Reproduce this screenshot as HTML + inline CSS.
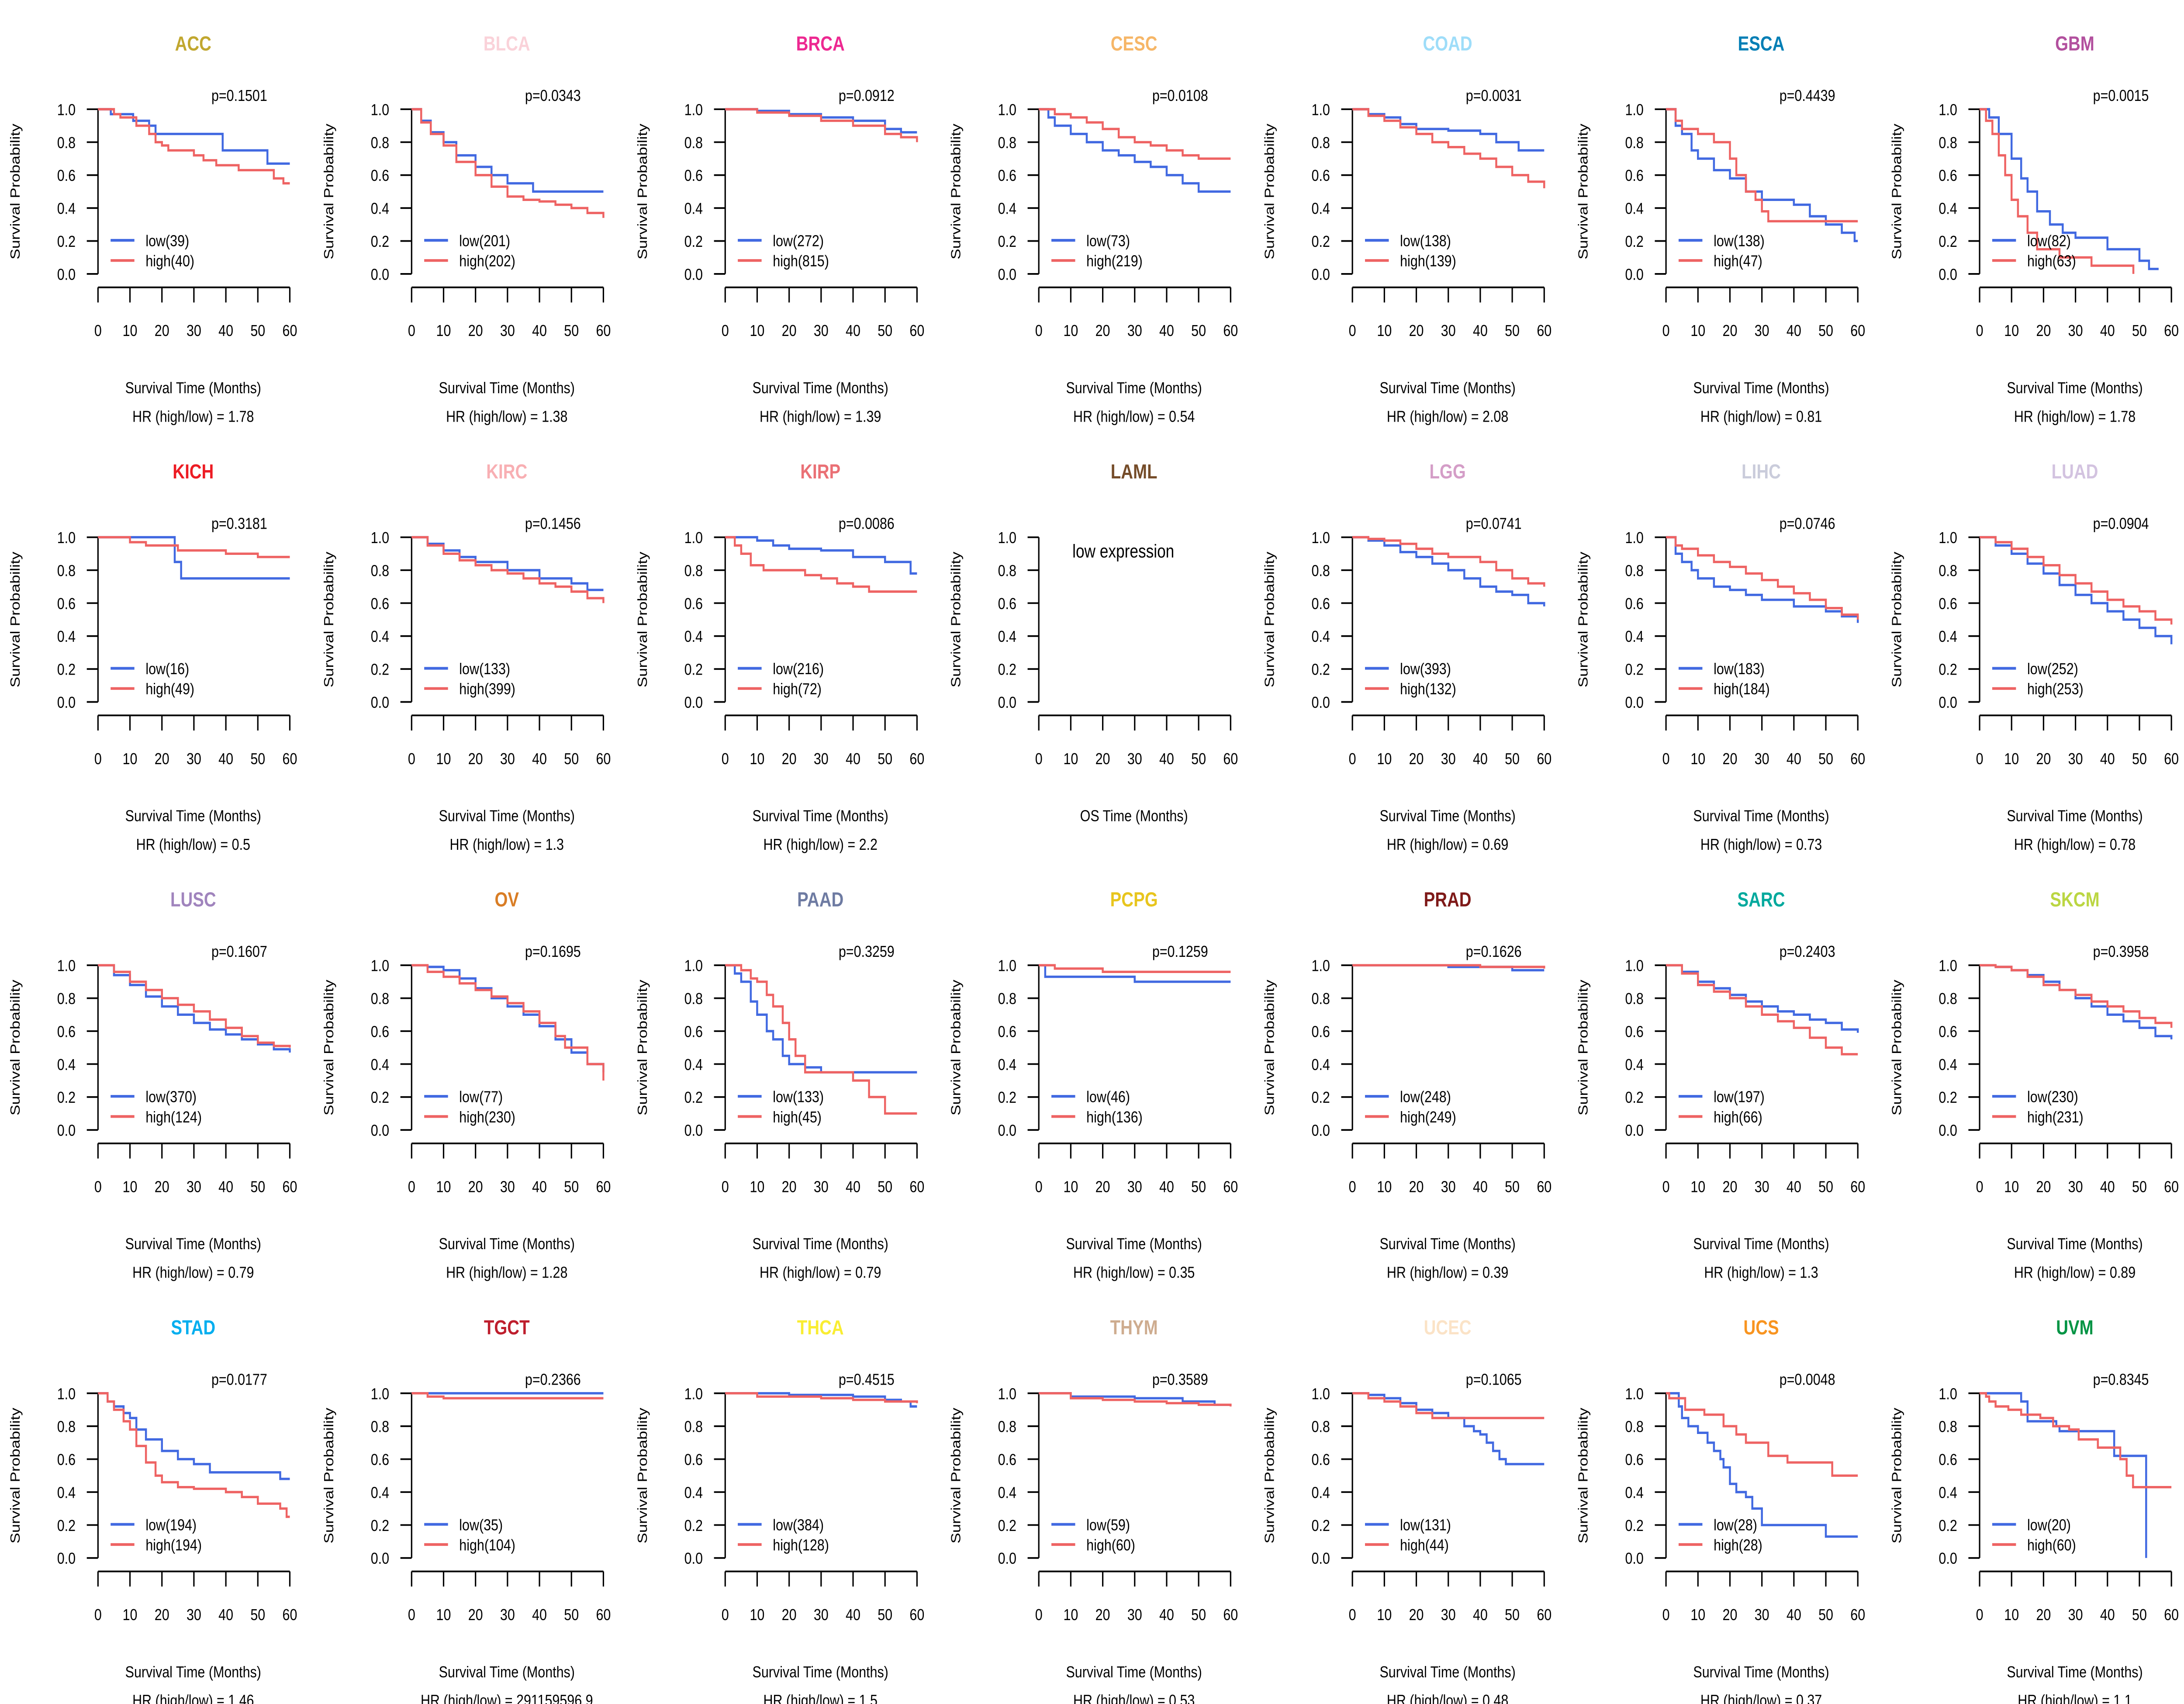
<!DOCTYPE html>
<html><head><meta charset="utf-8"><style>
html,body{margin:0;padding:0;background:#fff;width:100%;height:100%;overflow:hidden}
svg{display:block;width:100vw;height:100vh}
text{font-family:"Liberation Sans",sans-serif;fill:#000}
</style></head><body>
<svg id="chart" viewBox="0 0 1560 1014" preserveAspectRatio="none" xmlns="http://www.w3.org/2000/svg"></svg>
<script>
const cancers=["ACC","BLCA","BRCA","CESC","COAD","ESCA","GBM","KICH","KIRC","KIRP","LAML","LGG","LIHC","LUAD","LUSC","OV","PAAD","PCPG","PRAD","SARC","SKCM","STAD","TGCT","THCA","THYM","UCEC","UCS","UVM"];
const titleColors=["#C1A72F","#FAD2D9","#ED2891","#F6B667","#9EDDF9","#007EB5","#B2509E","#ED1C24","#F8AFB3","#EA7075","#754C29","#D49DC7","#CACCDB","#D3C3E0","#A084BD","#D97D25","#6E7BA2","#E8C51D","#7E1918","#00A99D","#BBD642","#00AEEF","#BE1E2D","#F9ED32","#CEAC8F","#FBE3C7","#F89420","#009444"];
const pvals=["0.1501","0.0343","0.0912","0.0108","0.0031","0.4439","0.0015","0.3181","0.1456","0.0086","","0.0741","0.0746","0.0904","0.1607","0.1695","0.3259","0.1259","0.1626","0.2403","0.3958","0.0177","0.2366","0.4515","0.3589","0.1065","0.0048","0.8345"];
const hrs=["1.78","1.38","1.39","0.54","2.08","0.81","1.78","0.5","1.3","2.2","","0.69","0.73","0.78","0.79","1.28","0.79","0.35","0.39","1.3","0.89","1.46","291159596.9","1.5","0.53","0.48","0.37","1.1"];
const lowN=[39,201,272,73,138,138,82,16,133,216,0,393,183,252,370,77,133,46,248,197,230,194,35,384,59,131,28,20];
const highN=[40,202,815,219,139,47,63,49,399,72,0,132,184,253,124,230,45,136,249,66,231,194,104,128,60,44,28,60];
const lowCurves=[
[[4,.97],[11,.93],[16,.9],[18,.85],[39,.75],[53,.67],[60,.67]],
[[3,.93],[6,.86],[10,.8],[14,.72],[20,.65],[25,.6],[30,.55],[38,.5],[60,.5]],
[[10,.99],[20,.97],[30,.95],[40,.93],[50,.88],[55,.86],[60,.86]],
[[3,.95],[5,.9],[10,.85],[15,.8],[20,.75],[25,.72],[30,.68],[35,.65],[40,.6],[45,.55],[50,.5],[60,.5]],
[[5,.97],[10,.95],[15,.91],[20,.88],[30,.87],[40,.85],[45,.8],[52,.75],[60,.75]],
[[3,.9],[5,.85],[8,.75],[10,.7],[15,.63],[20,.58],[25,.5],[30,.45],[40,.42],[45,.35],[50,.3],[55,.25],[59,.2],[60,.2]],
[[3,.95],[6,.85],[10,.7],[13,.58],[15,.5],[18,.38],[22,.3],[26,.25],[30,.22],[40,.15],[50,.08],[53,.03],[56,.03]],
[[24,.85],[26,.75],[60,.75]],
[[5,.96],[10,.92],[15,.88],[20,.85],[30,.8],[40,.75],[50,.72],[55,.68],[60,.68]],
[[10,.98],[15,.95],[20,.93],[30,.92],[40,.88],[50,.85],[58,.78],[60,.78]],
[],
[[5,.98],[10,.95],[15,.91],[20,.88],[25,.84],[30,.8],[35,.75],[40,.7],[45,.67],[50,.65],[55,.6],[60,.58]],
[[3,.9],[5,.85],[8,.8],[10,.75],[15,.7],[20,.68],[25,.65],[30,.62],[40,.58],[50,.55],[55,.52],[60,.48]],
[[5,.95],[10,.9],[15,.84],[20,.78],[25,.71],[30,.65],[35,.6],[40,.55],[45,.5],[50,.45],[55,.4],[60,.35]],
[[5,.94],[10,.88],[15,.81],[20,.75],[25,.7],[30,.65],[35,.61],[40,.58],[45,.55],[50,.52],[55,.49],[60,.47]],
[[5,.99],[10,.97],[15,.92],[20,.86],[25,.8],[30,.75],[35,.7],[40,.63],[45,.55],[50,.47],[55,.4],[60,.35]],
[[3,.95],[5,.9],[8,.78],[10,.7],[13,.6],[15,.55],[18,.45],[20,.4],[25,.38],[30,.35],[60,.35]],
[[2,.93],[30,.9],[60,.9]],
[[30,.99],[50,.97],[60,.97]],
[[5,.96],[10,.9],[15,.86],[20,.82],[25,.78],[30,.75],[35,.72],[40,.7],[45,.67],[50,.65],[55,.61],[60,.59]],
[[5,.99],[10,.97],[15,.94],[20,.9],[25,.85],[30,.8],[35,.75],[40,.7],[45,.66],[50,.62],[55,.57],[60,.55]],
[[3,.95],[5,.92],[8,.88],[10,.85],[12,.78],[15,.72],[20,.65],[25,.6],[30,.57],[35,.52],[55,.52],[57,.48],[60,.48]],
[[60,1]],
[[20,.99],[40,.98],[50,.96],[55,.95],[58,.92],[60,.92]],
[[10,.98],[30,.97],[45,.95],[50,.95],[55,.93],[60,.93]],
[[5,.99],[10,.97],[15,.94],[20,.9],[25,.88],[30,.85],[35,.8],[38,.77],[40,.75],[42,.7],[44,.65],[46,.6],[48,.57],[60,.57]],
[[4,.92],[5,.85],[7,.8],[10,.76],[13,.7],[15,.65],[17,.6],[18,.55],[20,.45],[22,.4],[25,.37],[27,.3],[30,.2],[50,.13],[60,.13]],
[[13,.95],[15,.83],[24,.8],[25,.77],[42,.77],[42.1,.62],[52,.62],[52.1,0]]
];
const highCurves=[
[[5,.97],[7,.95],[12,.9],[16,.85],[18,.8],[20,.78],[22,.75],[30,.72],[33,.69],[37,.66],[44,.63],[55,.58],[58,.55],[60,.55]],
[[3,.92],[6,.85],[10,.78],[14,.68],[20,.6],[25,.53],[30,.47],[35,.45],[40,.44],[45,.42],[50,.4],[55,.37],[60,.34]],
[[10,.98],[20,.96],[30,.93],[40,.9],[50,.85],[55,.83],[60,.8]],
[[5,.97],[10,.95],[15,.92],[20,.88],[25,.83],[30,.8],[35,.78],[40,.75],[45,.72],[50,.7],[60,.7]],
[[5,.96],[10,.93],[15,.89],[20,.85],[25,.8],[30,.77],[35,.73],[40,.7],[45,.65],[50,.6],[55,.56],[60,.52]],
[[3,.93],[5,.88],[10,.85],[15,.8],[20,.7],[22,.6],[25,.5],[28,.45],[30,.38],[32,.32],[60,.32]],
[[2,.93],[4,.85],[6,.72],[8,.6],[10,.45],[12,.35],[15,.25],[18,.15],[25,.1],[35,.05],[48,.05],[48.1,0]],
[[10,.97],[15,.95],[25,.92],[40,.9],[50,.88],[60,.88]],
[[5,.95],[10,.9],[15,.86],[20,.83],[25,.8],[30,.78],[35,.75],[40,.72],[45,.7],[50,.67],[55,.63],[60,.6]],
[[3,.95],[5,.9],[8,.83],[12,.8],[20,.8],[25,.77],[30,.75],[35,.72],[40,.7],[45,.67],[60,.67]],
[],
[[5,.99],[10,.98],[15,.96],[20,.93],[25,.9],[30,.88],[40,.85],[45,.8],[50,.75],[55,.72],[60,.7]],
[[3,.95],[5,.93],[10,.89],[15,.85],[20,.82],[25,.78],[30,.74],[35,.7],[40,.66],[45,.62],[50,.57],[55,.53],[60,.5]],
[[5,.97],[10,.93],[15,.88],[20,.83],[25,.77],[30,.72],[35,.67],[40,.62],[45,.58],[50,.55],[55,.5],[60,.47]],
[[5,.96],[10,.9],[15,.85],[20,.8],[25,.76],[30,.72],[35,.67],[40,.62],[45,.57],[50,.53],[55,.51],[60,.5]],
[[5,.96],[10,.93],[15,.89],[20,.85],[25,.81],[30,.77],[35,.72],[40,.65],[45,.57],[48,.5],[55,.4],[60,.3]],
[[5,.97],[8,.92],[10,.9],[13,.82],[15,.75],[18,.65],[20,.55],[22,.45],[25,.35],[40,.3],[45,.2],[50,.1],[60,.1]],
[[5,.98],[20,.96],[60,.96]],
[[40,.99],[60,.98]],
[[5,.95],[10,.88],[15,.84],[20,.8],[25,.75],[30,.7],[35,.66],[40,.62],[45,.56],[50,.5],[55,.46],[60,.46]],
[[5,.99],[10,.97],[15,.93],[20,.88],[25,.85],[30,.82],[35,.78],[40,.75],[45,.72],[50,.68],[55,.65],[60,.62]],
[[3,.95],[5,.9],[8,.83],[10,.78],[12,.68],[15,.58],[18,.5],[20,.46],[25,.43],[30,.42],[40,.4],[45,.37],[50,.33],[57,.3],[59,.25],[60,.25]],
[[5,.98],[10,.97],[60,.97]],
[[10,.98],[30,.97],[40,.96],[50,.95],[60,.94]],
[[10,.97],[20,.96],[30,.95],[40,.94],[50,.93],[60,.92]],
[[5,.97],[10,.95],[15,.92],[20,.88],[25,.85],[60,.85]],
[[1,.97],[6,.9],[12,.87],[18,.8],[22,.75],[25,.7],[32,.62],[38,.58],[52,.5],[60,.5]],
[[2,.98],[3,.95],[5,.92],[9,.9],[13,.87],[19,.85],[23,.8],[28,.78],[31,.72],[37,.67],[44,.6],[46,.5],[48,.43],[60,.43]]
];
const xTicks=[0,10,20,30,40,50,60];
const yTicks=[0,0.2,0.4,0.6,0.8,1.0];

const NS="http://www.w3.org/2000/svg";
const svg=document.getElementById('chart');
function mk(tag,attrs,parent){const e=document.createElementNS(NS,tag);for(const k in attrs)e.setAttribute(k,attrs[k]);(parent||svg).appendChild(e);return e;}
const BLUE="#4169E1",RED="#EE6363";
cancers.forEach((c,i)=>{
  const col=i%7,row=Math.floor(i/7);
  const x0=70+col*224,y0=65+row*254.7;
  const X=t=>x0+t/60*137, Y=s=>y0+(1-s)*98;
  const g=mk('g',{});
  
  
  const tt=mk('text',{x:x0+68,y:y0-35,'text-anchor':'middle','font-size':12,'font-weight':'bold'},g);
  tt.style.fill=titleColors[i];tt.textContent=c;
  
  
  const ya=mk('line',{x1:x0,y1:Y(0),x2:x0,y2:Y(1),stroke:'#000','stroke-width':1},g);
  
  
  yTicks.forEach(v=>{
    mk('line',{x1:x0-8,y1:Y(v),x2:x0,y2:Y(v),stroke:'#000','stroke-width':1},g);
    const t=mk('text',{x:x0-16,y:Y(v)+3.5,'text-anchor':'end','font-size':9.5},g);
    t.textContent=v.toFixed(1);
    
    
  });
  const xa=mk('line',{x1:X(0),y1:y0+106,x2:X(60),y2:y0+106,stroke:'#000','stroke-width':1},g);
  
  
  xTicks.forEach(v=>{
    mk('line',{x1:X(v),y1:y0+106,x2:X(v),y2:y0+115,stroke:'#000','stroke-width':1},g);
    const t=mk('text',{x:X(v),y:y0+135,'text-anchor':'middle','font-size':9.5},g);
    t.textContent=v;
    
    
  });
  const yl=mk('text',{x:0,y:0,'text-anchor':'middle','font-size':9.5,transform:`translate(${x0-56},${y0+49}) rotate(-90)`},g);
  yl.textContent='Survival Probability';
  
  
  const xl=mk('text',{x:x0+68,y:y0+169,'text-anchor':'middle','font-size':9.5},g);
  xl.textContent=c==='LAML'?'OS Time (Months)':'Survival Time (Months)';
  
  
  if(c==='LAML'){
    const le=mk('text',{x:x0+24,y:y0+12,'font-size':11},g);
    le.textContent='low expression';
    
    
    return;
  }
  const hr=mk('text',{x:x0+68,y:y0+186,'text-anchor':'middle','font-size':9.5},g);
  hr.textContent='HR (high/low) =  '+hrs[i];
  
  
  const p=mk('text',{x:x0+81,y:y0-5,'font-size':9.5},g);
  p.textContent='p='+pvals[i];
  
  
  [[lowCurves[i],BLUE,'low-curve'],[highCurves[i],RED,'high-curve']].forEach(([pts,clr,nm])=>{
    let d=`M${X(0)},${Y(1)}`;
    pts.forEach(([t,s])=>{d+=` H${X(t).toFixed(2)} V${Y(s).toFixed(2)}`;});
    const path=mk('path',{d:d,fill:'none',stroke:clr,'stroke-width':1.4},g);
    
    
  });
  [[BLUE,'low('+lowN[i]+')',78,'legend-low'],[RED,'high('+highN[i]+')',90,'legend-high']].forEach(([clr,lab,dy,nm])=>{
    const lg=mk('g',{},g);
    
    
    mk('line',{x1:x0+9,y1:y0+dy,x2:x0+26,y2:y0+dy,stroke:clr,'stroke-width':1.6},lg);
    const t=mk('text',{x:x0+34,y:y0+dy+3.5,'font-size':9.5},lg);
    t.textContent=lab;
  });
});
</script>
</body></html>
